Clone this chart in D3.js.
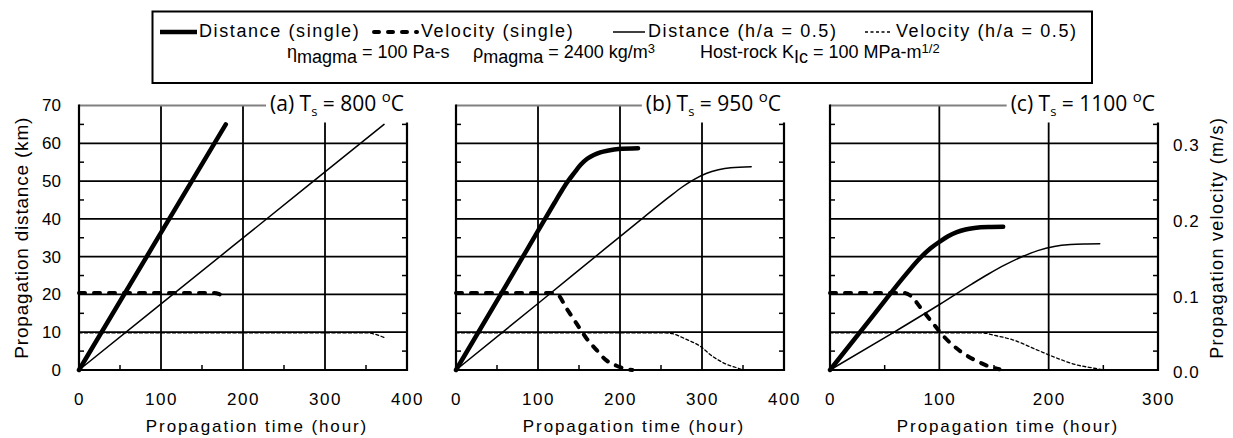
<!DOCTYPE html>
<html>
<head>
<meta charset="utf-8">
<script src="https://cdn.jsdelivr.net/npm/d3@7"></script>
<style>
  body { margin: 0; background: #fff; }
  svg { display: block; font-family: 'Liberation Sans', Arial, sans-serif; }
</style>
</head>
<body>
<div id="chart"></div>
<script>
// values: time in hours, distance in km, velocity in m/s
const panelLabels = ['(a)', '(b)', '(c)']
const surfaceTemps = ['800', '950', '1100']
const timeMax = [400, 400, 300]
const distanceTicks = [0, 10, 20, 30, 40, 50, 60, 70]
const velocityTicks = [0, 0.1, 0.2, 0.3]
const legendLabels = ['Distance (single)', 'Velocity (single)', 'Distance (h/a = 0.5)', 'Velocity (h/a = 0.5)']

const distSingleA = [[0, 0], [90, 32.7], [179, 65]]
const velSingleA = [[0, 0.102], [165, 0.102], [172, 0.1], [178, 0.097]]
const distHalfA = [[0, 0], [186, 32.5], [372, 65]]
const velHalfA = [[0, 0.049], [352, 0.049], [362, 0.047], [372, 0.043]]

const distSingleB = [[0, 0], [60, 22], [100, 36.8], [120, 44.2], [128, 47.1], [136, 49.8], [144, 52.1], [152, 54.3], [160, 55.9], [168, 56.9], [176, 57.6], [186, 58.1], [198, 58.5], [222, 58.7]]
const velSingleB = [[0, 0.102], [118, 0.102], [124, 0.1], [134.5, 0.082], [146.7, 0.062], [159, 0.042], [171, 0.027], [183, 0.013], [195, 0.006], [205, 0.002], [215, 0]]
const distHalfB = [[0, 0], [100, 17.6], [183, 32.3], [230, 40.6], [260, 45.8], [275, 48.3], [290, 50.4], [305, 52], [320, 53], [335, 53.55], [360, 53.8]]
const velHalfB = [[0, 0.049], [255, 0.049], [264, 0.048], [280, 0.041], [297, 0.032], [313, 0.018], [329, 0.008], [345, 0.002], [350, 0]]

const distSingleC = [[0, 0], [40, 14.6], [70, 25.5], [82, 29.5], [92, 32.2], [100, 33.9], [108, 35.4], [116, 36.5], [124, 37.2], [132, 37.6], [145, 37.85], [158.4, 37.9]]
const velSingleC = [[0, 0.102], [68, 0.102], [74, 0.098], [82, 0.084], [94, 0.062], [105, 0.043], [119, 0.025], [134, 0.012], [145, 0.005], [155, 0.001]]
const distHalfC = [[0, 0], [57.9, 9.9], [100.5, 17.4], [130, 22.8], [145, 25.4], [160, 27.8], [175, 29.9], [190, 31.6], [205, 32.7], [220, 33.2], [235, 33.35], [246.7, 33.4]]
const velHalfC = [[0, 0.049], [140, 0.049], [150, 0.046], [167, 0.04], [188.6, 0.027], [207, 0.016], [225, 0.007], [243, 0.002], [250, 0]]

const seriesData = [
  [distSingleA, velSingleA, distHalfA, velHalfA],
  [distSingleB, velSingleB, distHalfB, velHalfB],
  [distSingleC, velSingleC, distHalfC, velHalfC]
]

// line styles in legend order
const styles = [
  { kind: 'dist', width: 4.5, dash: null },
  { kind: 'vel', width: 4, dash: '6,9' },
  { kind: 'dist', width: 1.5, dash: null },
  { kind: 'vel', width: 1.3, dash: '3,2.5' }
]

const width = 1233
const height = 438
const plotLefts = [79, 456, 830]
const plotW = 328
const plotTop = 105.5
const plotBottom = 370

const svg = d3.select('#chart')
  .append('svg')
  .attr('width', width)
  .attr('height', height)

const yDist = d3.scaleLinear().domain([0, 70]).range([plotBottom, plotTop])
const yVel = d3.scaleLinear().domain([0, 0.35]).range([plotBottom, plotTop])

function drawPanel (i) {
  const left = plotLefts[i]
  const right = left + plotW
  const x = d3.scaleLinear().domain([0, timeMax[i]]).range([left, right])
  const g = svg.append('g').classed('panel', true)

  // gridlines
  g.append('g')
    .selectAll('line')
    .data(distanceTicks.slice(1, -1))
    .join('line')
    .attr('x1', left).attr('x2', right)
    .attr('y1', d => yDist(d)).attr('y2', d => yDist(d))
    .attr('stroke', '#000').attr('stroke-width', 1.8)

  g.append('g')
    .selectAll('line')
    .data(d3.range(100, timeMax[i], 100))
    .join('line')
    .attr('x1', d => x(d)).attr('x2', d => x(d))
    .attr('y1', plotTop).attr('y2', plotBottom)
    .attr('stroke', '#000').attr('stroke-width', 1.8)

  // minor ticks, pointing inwards
  const minorY = d3.range(5, 70, 10)
  g.append('g')
    .selectAll('line')
    .data(minorY)
    .join('line')
    .attr('x1', left).attr('x2', left + 5)
    .attr('y1', d => yDist(d)).attr('y2', d => yDist(d))
    .attr('stroke', '#000').attr('stroke-width', 1.5)
  g.append('g')
    .selectAll('line')
    .data(minorY)
    .join('line')
    .attr('x1', right - 5).attr('x2', right)
    .attr('y1', d => yDist(d)).attr('y2', d => yDist(d))
    .attr('stroke', '#000').attr('stroke-width', 1.5)
  g.append('g')
    .selectAll('line')
    .data(d3.range(50, timeMax[i], 100))
    .join('line')
    .attr('x1', d => x(d)).attr('x2', d => x(d))
    .attr('y1', plotBottom - 5).attr('y2', plotBottom)
    .attr('stroke', '#000').attr('stroke-width', 1.5)

  // frame: gray top, black others
  g.append('line')
    .attr('x1', left).attr('x2', right).attr('y1', plotTop).attr('y2', plotTop)
    .attr('stroke', '#808080').attr('stroke-width', 2.2)
  g.append('path')
    .attr('d', `M${left},${plotTop - 1}V${plotBottom}H${right}V${plotTop - 1}`)
    .attr('fill', 'none').attr('stroke', '#000').attr('stroke-width', 2.2)

  // panel title with white box behind it
  const titleBox = g.append('rect').attr('fill', '#fff')
  const title = g.append('text')
    .attr('x', right - 3)
    .attr('y', plotTop + 5)
    .attr('text-anchor', 'end')
    .style('font-family', "'Open Sans', 'Noto Sans', sans-serif")
    .style('font-size', '21px')
  title.append('tspan').text(panelLabels[i] + ' T')
  title.append('tspan').attr('dy', 5).style('font-size', '13px').text('s')
  title.append('tspan').attr('dy', -5).text(' = ' + surfaceTemps[i] + ' ')
  title.append('tspan').attr('dy', -9).style('font-size', '15px').text('o')
  title.append('tspan').attr('dy', 9).text('C')
  const bb = title.node().getBBox()
  titleBox
    .attr('x', bb.x - 4)
    .attr('y', plotTop - 20)
    .attr('width', right + 4 - (bb.x - 4))
    .attr('height', 37)

  // data lines
  const line = d3.line()
    .x(d => x(d[0]))
    .curve(d3.curveMonotoneX)
  seriesData[i].forEach((data, k) => {
    const st = styles[k]
    const yS = st.kind === 'dist' ? yDist : yVel
    g.append('path')
      .datum(data)
      .attr('d', line.y(d => yS(d[1])))
      .attr('fill', 'none')
      .attr('stroke', '#000')
      .attr('stroke-width', st.width)
      .attr('stroke-linecap', 'round')
      .attr('stroke-linejoin', 'round')
      .attr('stroke-dasharray', st.dash)
  })

  // x axis labels
  const xAxis = d3.axisBottom(x)
    .tickValues(d3.range(0, timeMax[i] + 1, 100))
    .tickSize(0)
    .tickPadding(23)
  const xg = g.append('g')
    .attr('transform', `translate(0, ${plotBottom})`)
    .call(xAxis)
  xg.select('.domain').remove()
  xg.selectAll('text')
    .attr('fill', '#000')
    .style('font-size', '17px')
    .style('letter-spacing', '1.5px')
    .style('font-family', "'Liberation Sans', Arial, sans-serif")

  g.append('text')
    .attr('x', (left + right) / 2 + 14)
    .attr('y', 432)
    .attr('text-anchor', 'middle')
    .style('font-size', '17px')
    .style('letter-spacing', '1.9px')
    .text('Propagation time (hour)')
}

panelLabels.forEach((d, i) => drawPanel(i))

// left distance axis (panel a)
const yAxisL = d3.axisLeft(yDist).tickValues(distanceTicks).tickSize(0).tickPadding(18)
const ygL = svg.append('g').attr('transform', `translate(${plotLefts[0]}, 0)`).call(yAxisL)
ygL.select('.domain').remove()
ygL.selectAll('text')
  .attr('fill', '#000')
  .style('font-size', '17px')
  .style('font-family', "'Liberation Sans', Arial, sans-serif")

svg.append('text')
  .attr('transform', `translate(28, ${(plotTop + plotBottom) / 2}) rotate(-90)`)
  .attr('text-anchor', 'middle')
  .style('font-size', '19px')
  .style('letter-spacing', '0.8px')
  .text('Propagation distance (km)')

// right velocity axis (panel c)
const yAxisR = d3.axisRight(yVel).tickValues(velocityTicks).tickFormat(d3.format('.1f')).tickSize(0).tickPadding(15)
const ygR = svg.append('g').attr('transform', `translate(${plotLefts[2] + plotW}, 0)`).call(yAxisR)
ygR.select('.domain').remove()
ygR.selectAll('text')
  .attr('fill', '#000')
  .attr('dy', '0.45em')
  .style('font-size', '17px')
  .style('letter-spacing', '1px')
  .style('font-family', "'Liberation Sans', Arial, sans-serif")

svg.append('text')
  .attr('transform', `translate(1223, ${(plotTop + plotBottom) / 2}) rotate(-90)`)
  .attr('text-anchor', 'middle')
  .style('font-size', '18px')
  .style('letter-spacing', '1.3px')
  .text('Propagation velocity (m/s)')

// legend box
const legend = svg.append('g').classed('legend', true)
legend.append('rect')
  .attr('x', 152.5).attr('y', 11.5)
  .attr('width', 939.5).attr('height', 71.5)
  .attr('fill', '#fff').attr('stroke', '#000').attr('stroke-width', 2)

const sampleX = [[160, 197], [374, 417], [613, 645], [865, 892]]
const labelX = [199, 421, 648, 896]
legendLabels.forEach((label, k) => {
  const st = styles[k]
  legend.append('line')
    .attr('x1', sampleX[k][0]).attr('x2', sampleX[k][1])
    .attr('y1', 32).attr('y2', 32)
    .attr('stroke', '#000')
    .attr('stroke-width', st.width)
    .attr('stroke-linecap', k === 1 ? 'round' : 'butt')
    .attr('stroke-dasharray', k === 1 ? '5,9' : st.dash)
  legend.append('text')
    .attr('x', labelX[k]).attr('y', 37)
    .style('font-size', '18px')
    .style('letter-spacing', '1.6px')
    .text(label)
})

// parameter line
const params = [
  { x: 287, sym: 'η', tail: ' = 100 Pa-s', sup: '' },
  { x: 473, sym: 'ρ', tail: ' = 2400 kg/m', sup: '3' },
  { x: 700, sym: 'Host-rock K', sub: 'Ic', tail: ' = 100 MPa-m', sup: '1/2' }
]
params.forEach(p => {
  const t = legend.append('text')
    .attr('x', p.x).attr('y', 58)
    .style('font-size', '18px')
  t.append('tspan').text(p.sym)
  t.append('tspan').attr('dy', 5).text(p.sub || 'magma')
  t.append('tspan').attr('dy', -5).text(p.tail)
  if (p.sup) t.append('tspan').attr('dy', -5).style('font-size', '13px').text(p.sup)
})
</script>
</body>
</html>
